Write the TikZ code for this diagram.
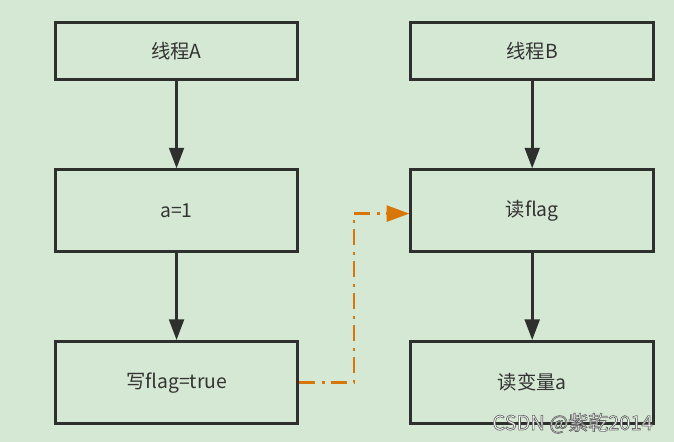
\documentclass[tikz,border=0pt]{standalone}
\usepackage{fontspec}
\setmainfont{Noto Sans CJK SC}
\usepackage{xcolor}
\usetikzlibrary{arrows.meta, positioning}
\definecolor{bggreen}{RGB}{213, 232, 212}
\definecolor{boxline}{RGB}{45, 48, 45}
\definecolor{darktext}{RGB}{51, 51, 51}
\definecolor{signalorange}{RGB}{217, 118, 10}
% outlined text for the watermark
\newcommand{\outlinetext}[1]{\special{pdf:literal direct 2 Tr 0.5 w 0.4 0.4 0.4 RG}#1\special{pdf:literal direct 0 Tr}}

\tikzset{
    stepbox/.style={draw=boxline, fill=bggreen, line width=2.25pt, text=darktext,
        minimum width=182pt, minimum height=61.5pt, inner sep=0pt, font=\fontsize{14.5}{17}\selectfont},
    headbox/.style={stepbox, minimum height=43pt},
    flow/.style={draw=boxline, line width=2.25pt, -{Triangle[length=15.5pt, width=11pt]}},
    signal/.style={draw=signalorange, line width=1.8pt,
        dash pattern=on 12pt off 5pt on 2pt off 5pt,
        -{Triangle[length=17pt, width=12pt]}}
}

\begin{document}
\begin{tikzpicture}
    % background and margins
    \fill[bggreen] (0,0) rectangle (505.5pt,-331.5pt);
    \useasboundingbox (0,0) rectangle (505.5pt,-331.5pt);

    % thread A
    \node[headbox] (threadA) at (132.4pt,-38.2pt) {线程A};
    \node[stepbox, below=65.5pt of threadA] (setA) {a=1};
    \node[stepbox, below=65pt of setA] (writeFlag) {写flag=true};

    % thread B
    \node[headbox, right=82.5pt of threadA] (threadB) {线程B};
    \node[stepbox, below=65.5pt of threadB] (readFlag) {读flag};
    \node[stepbox, below=65pt of readFlag] (readVar) {读变量a};

    \draw[flow] (threadA) -- (setA);
    \draw[flow] (setA) -- (writeFlag);
    \draw[flow] (threadB) -- (readFlag);
    \draw[flow] (readFlag) -- (readVar);

    \coordinate (bend) at ([xshift=41pt]writeFlag.east);
    \draw[signal] (writeFlag.east) -- (bend) |- ([yshift=-2pt]readFlag.west);

    \node[text=white, font=\fontsize{15}{18}\selectfont, anchor=east] (mark) at (493pt,-317.5pt) {\outlinetext{CSDN @紫乾2014}};
\end{tikzpicture}
\end{document}
